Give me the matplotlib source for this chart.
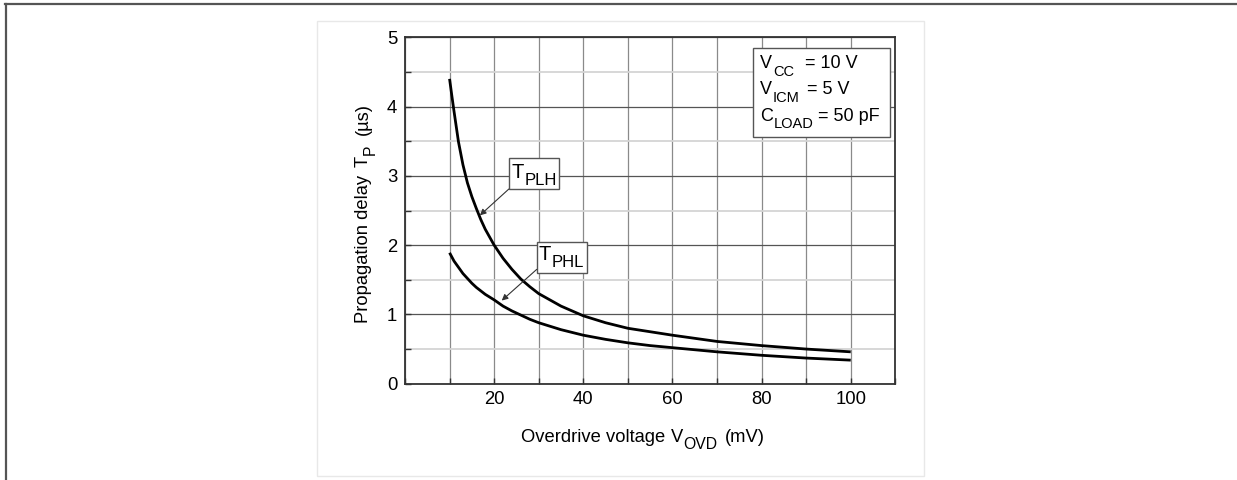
import matplotlib
matplotlib.use('Agg')
import matplotlib.pyplot as plt
from matplotlib.patches import Rectangle
from matplotlib.lines import Line2D
from matplotlib.ticker import MultipleLocator
from matplotlib.transforms import IdentityTransform

plt.rcParams['font.family'] = ['Liberation Sans', 'DejaVu Sans']

# ---- data ----
vovd_plh = [10, 10.5, 11, 12, 13, 14, 15, 16, 17, 18, 20, 22, 24, 26, 28, 30,
            35, 40, 45, 50, 55, 60, 70, 80, 90, 100]
t_plh = [4.40, 4.16, 3.93, 3.49, 3.16, 2.90, 2.70, 2.53, 2.37, 2.23, 2.00, 1.81,
         1.65, 1.51, 1.40, 1.30, 1.12, 0.98, 0.88, 0.80, 0.75, 0.70, 0.61, 0.55,
         0.50, 0.46]

vovd_phl = [10, 11, 12, 13, 14, 15, 16, 17, 18, 20, 22, 24, 26, 28, 30, 35, 40,
            45, 50, 55, 60, 70, 80, 90, 100]
t_phl = [1.89, 1.77, 1.68, 1.59, 1.52, 1.45, 1.39, 1.34, 1.29, 1.21, 1.12, 1.05,
         0.99, 0.93, 0.88, 0.78, 0.70, 0.64, 0.59, 0.55, 0.52, 0.46, 0.41, 0.37,
         0.34]

x_ticks = [20, 40, 60, 80, 100]
y_ticks = [0, 1, 2, 3, 4, 5]

cond_base = ['V', 'V', 'C']
cond_sub = ['CC', 'ICM', 'LOAD']
cond_value = ['= 10 V', '= 5 V', '= 50 pF']

W, H = 1237, 480
fig = plt.figure(figsize=(W / 100, H / 100), dpi=100)
renderer = fig.canvas.get_renderer()


def rich(x, y, parts, size, sub_size, drop, rotation=0, color='black', zorder=6):
    """Place text pieces (text, is_sub, gap_px_before) starting at display px (x, y)."""
    pos = 0.0
    for txt, is_sub, gap in parts:
        pos += gap
        d = drop if is_sub else 0.0
        if rotation == 0:
            px, py = x + pos, y - d
        else:
            px, py = x + d, y + pos
        t = fig.text(px, py, txt, transform=IdentityTransform(),
                     fontsize=sub_size if is_sub else size, color=color,
                     ha='left', va='baseline', rotation=rotation,
                     rotation_mode='anchor', zorder=zorder)
        bb = t.get_window_extent(renderer)
        pos += bb.width if rotation == 0 else bb.height


# outer partial frame (top and left)
fig.add_artist(Line2D([0.0042, 1.0], [0.9927, 0.9927], transform=fig.transFigure,
                      color='#555555', lw=1.6))
fig.add_artist(Line2D([0.0045, 0.0045], [0.0, 0.9927], transform=fig.transFigure,
                      color='#555555', lw=1.6))
# light inner panel
fig.add_artist(Rectangle((0.2563, 0.0083), 0.4907, 0.948, transform=fig.transFigure,
                         fill=False, edgecolor='#e8e8e8', lw=1.0))

ax = fig.add_axes([405 / W, 1 - 383.7 / H, (895.3 - 405) / W, (383.7 - 37.3) / H])
ax.set_xlim(0, 110)
ax.set_ylim(0, 5)

ax.plot(vovd_plh, t_plh, color='black', lw=2.0, zorder=3, solid_capstyle='butt',
        solid_joinstyle='round')
ax.plot(vovd_phl, t_phl, color='black', lw=2.0, zorder=3, solid_capstyle='butt',
        solid_joinstyle='round')

ax.set_xticks(x_ticks)
ax.xaxis.set_minor_locator(MultipleLocator(10))
ax.set_yticks(y_ticks)
ax.yaxis.set_minor_locator(MultipleLocator(0.5))

ax.grid(which='major', axis='x', color='#8a8a8a', lw=0.9)
ax.grid(which='minor', axis='x', color='#8a8a8a', lw=0.9)
ax.grid(which='major', axis='y', color='#555555', lw=0.9)
ax.grid(which='minor', axis='y', color='#d4d4d4', lw=1.3)
ax.set_axisbelow(True)

ax.tick_params(which='both', direction='in', length=4, width=1.0, color='#333333',
               top=False, right=False)
ax.tick_params(axis='x', which='major', labelsize=13.3, pad=5.0)
ax.tick_params(axis='y', which='major', labelsize=13.3, pad=5.5)
for s in ax.spines.values():
    s.set_color('#333333')
    s.set_linewidth(1.3)

# boxes for curve labels and conditions
ax.add_patch(Rectangle((23.3, 2.81), 34.6 - 23.3, 3.254 - 2.81, facecolor='white',
                       edgecolor='#555555', lw=1.0, zorder=4))
ax.annotate('', xy=(16.8, 2.43), xytext=(23.3, 2.81),
            arrowprops=dict(arrowstyle='-|>', color='#333333', lw=0.8,
                            mutation_scale=9, shrinkA=0, shrinkB=0), zorder=5)
ax.add_patch(Rectangle((29.55, 1.60), 40.9 - 29.55, 2.05 - 1.60, facecolor='white',
                       edgecolor='#555555', lw=1.0, zorder=4))
ax.annotate('', xy=(21.7, 1.20), xytext=(29.55, 1.65),
            arrowprops=dict(arrowstyle='-|>', color='#333333', lw=0.8,
                            mutation_scale=9, shrinkA=0, shrinkB=0), zorder=5)
ax.add_patch(Rectangle((78.15, 3.565), 108.8 - 78.15, 4.85 - 3.565, facecolor='white',
                       edgecolor='#555555', lw=1.0, zorder=4))

# axis labels (with real subscripts)
rich(520.7, H - 441.7, [('Overdrive voltage', False, 0), ('V', False, 6),
                        ('OVD', True, 0.5), ('(mV)', False, 7)],
     size=13.2, sub_size=11.3, drop=7)
rich(368, H - 323, [('Propagation delay', False, 0), ('T', False, 8),
                    ('P', True, 0.5), ('(µs)', False, 10)],
     size=13.2, sub_size=11.3, drop=7, rotation=90)

# curve labels
rich(511.7, H - 178.3, [('T', False, 0), ('PLH', True, 0.5)],
     size=14.5, sub_size=12.0, drop=6.7)
rich(538.3, H - 260, [('T', False, 0), ('PHL', True, 0.5)],
     size=14.5, sub_size=12.0, drop=7.0)

# conditions
cond_base_y = [68.3, 94.3, 120.7]
cond_eq_x = [805, 806.7, 818.3]
for b, s, v, yy, ex in zip(cond_base, cond_sub, cond_value, cond_base_y, cond_eq_x):
    rich(760, H - yy, [(b, False, 0), (s, True, 1)], size=13, sub_size=10.5, drop=7.3)
    rich(ex, H - yy, [(v, False, 0)], size=13, sub_size=10.5, drop=0)

fig.savefig('out.png', dpi=100)
